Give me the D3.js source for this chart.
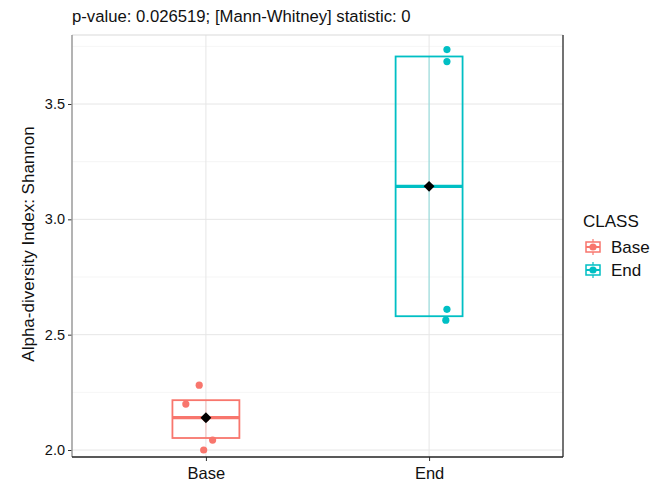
<!DOCTYPE html>
<html>
<head>
<meta charset="utf-8">
<script src="https://cdn.jsdelivr.net/npm/d3@7"></script>
<style>
  html, body { margin: 0; padding: 0; background: #fff; }
  svg { display: block; font-family: "Liberation Sans", Arial, sans-serif; }
</style>
</head>
<body>
<svg id="chart" width="659" height="488"></svg>
<script>
// Groups and their colours
const classes = ["Base", "End"];
const classColors = ["#F8766D", "#00BFC4"];

// Shannon index per sample, with a small horizontal jitter (category units)
const baseValues = [2.281, 2.199, 2.139, 2.043, 2.000];
const baseJitter = [-0.03, -0.09, 0.0, 0.03, -0.01];
const endValues = [3.736, 3.684, 2.610, 2.563];
const endJitter = [0.08, 0.08, 0.08, 0.075];

// Box summaries: lower hinge, median, upper hinge, mean
const boxLower = [2.052, 2.580];
const boxMedian = [2.140, 3.143];
const boxUpper = [2.216, 3.706];
const groupMean = [2.140, 3.143];

// Axis ticks
const yTicks = [2.0, 2.5, 3.0, 3.5];
const yMinorTicks = [2.25, 2.75, 3.25, 3.75];

const titleText = "p-value: 0.026519; [Mann-Whitney] statistic: 0";
const yTitle = "Alpha-diversity Index: Shannon";
const legendTitle = "CLASS";

const svg = d3.select("#chart");
const panel = { left: 72, top: 35, right: 563, bottom: 457 };

const x = d3.scaleLinear().domain([0.4, 2.6]).range([panel.left, panel.right]);
const y = d3.scaleLinear().domain([2.0, 3.5]).range([450, 104]);

// Grid
const grid = svg.append("g");
grid.selectAll(".minor").data(yMinorTicks).join("line")
  .attr("x1", panel.left).attr("x2", panel.right)
  .attr("y1", d => y(d)).attr("y2", d => y(d))
  .attr("stroke", "#f3f3f3").attr("stroke-width", 0.8);
grid.selectAll(".major").data(yTicks).join("line")
  .attr("x1", panel.left).attr("x2", panel.right)
  .attr("y1", d => y(d)).attr("y2", d => y(d))
  .attr("stroke", "#e6e6e6").attr("stroke-width", 1);
grid.selectAll(".vmajor").data(classes).join("line")
  .attr("x1", (d, i) => x(i + 1)).attr("x2", (d, i) => x(i + 1))
  .attr("y1", panel.top).attr("y2", panel.bottom)
  .attr("stroke", "#e6e6e6").attr("stroke-width", 1);

// Panel border
svg.append("line").attr("x1", panel.left).attr("x2", panel.right)
  .attr("y1", panel.top).attr("y2", panel.top).attr("stroke", "#d9d9d9");
svg.append("line").attr("x1", panel.right).attr("x2", panel.right)
  .attr("y1", panel.top).attr("y2", panel.bottom).attr("stroke", "#444").attr("stroke-width", 1.5);

// Boxes
const boxHalf = 0.15;
const boxes = svg.append("g");
classes.forEach((c, i) => {
  const col = classColors[i];
  const cx = x(i + 1);
  boxes.append("line")
    .attr("x1", cx).attr("x2", cx)
    .attr("y1", y(boxUpper[i])).attr("y2", y(boxLower[i]))
    .attr("stroke", col).attr("stroke-opacity", 0.35).attr("stroke-width", 1.2);
  boxes.append("rect")
    .attr("x", x(i + 1 - boxHalf)).attr("width", x(i + 1 + boxHalf) - x(i + 1 - boxHalf))
    .attr("y", y(boxUpper[i])).attr("height", y(boxLower[i]) - y(boxUpper[i]))
    .attr("fill", "none").attr("stroke", col).attr("stroke-width", 1.8);
  boxes.append("line")
    .attr("x1", x(i + 1 - boxHalf)).attr("x2", x(i + 1 + boxHalf))
    .attr("y1", y(boxMedian[i])).attr("y2", y(boxMedian[i]))
    .attr("stroke", col).attr("stroke-width", 3.2);
});

// Sample points
const points = svg.append("g");
const groups = [
  { vals: baseValues, jit: baseJitter },
  { vals: endValues, jit: endJitter }
];
groups.forEach((g, i) => {
  points.selectAll(null).data(g.vals).join("circle")
    .attr("cx", (d, k) => x(i + 1 + g.jit[k]))
    .attr("cy", d => y(d))
    .attr("r", 3.6)
    .attr("fill", classColors[i]);
});

// Mean markers
const diamond = d3.symbol().type(d3.symbolDiamond2).size(75);
svg.append("g").selectAll("path").data(groupMean).join("path")
  .attr("d", diamond)
  .attr("transform", (d, i) => `translate(${x(i + 1)},${y(d)})`)
  .attr("fill", "#000");

// Axes
const yAxis = d3.axisLeft(y).tickValues(yTicks).tickFormat(d3.format(".1f")).tickSize(4).tickPadding(3);
const yg = svg.append("g").attr("transform", `translate(${panel.left},0)`).call(yAxis);
yg.select(".domain").remove();
yg.append("line").attr("x1", 0).attr("x2", 0).attr("y1", panel.top).attr("y2", panel.bottom)
  .attr("stroke", "#9a9a9a").attr("stroke-width", 1.5);
yg.selectAll(".tick line").attr("stroke", "#333");
yg.selectAll(".tick text").attr("font-size", 14.5).attr("fill", "#111")
  .attr("font-family", "Liberation Sans, Arial, sans-serif");

const xBand = d3.scalePoint().domain(classes).range([x(1), x(2)]);
const xAxis = d3.axisBottom(xBand).tickSize(4).tickPadding(6);
const xg = svg.append("g").attr("transform", `translate(0,${panel.bottom})`).call(xAxis);
xg.select(".domain").remove();
xg.append("line").attr("x1", panel.left).attr("x2", panel.right).attr("y1", 0).attr("y2", 0)
  .attr("stroke", "#222").attr("stroke-width", 1.5);
xg.selectAll(".tick line").attr("stroke", "#333");
xg.selectAll(".tick text").attr("font-size", 16.5).attr("fill", "#111")
  .attr("font-family", "Liberation Sans, Arial, sans-serif");

// Titles
svg.append("text").attr("x", panel.left).attr("y", 22)
  .attr("font-size", 16.7).attr("fill", "#111").text(titleText);
svg.append("text")
  .attr("transform", `translate(34,244) rotate(-90)`)
  .attr("text-anchor", "middle").attr("font-size", 17).attr("fill", "#111").text(yTitle);

// Legend
const lg = svg.append("g").attr("transform", "translate(582,0)");
lg.append("text").attr("x", 1).attr("y", 227).attr("font-size", 17).attr("fill", "#111").text(legendTitle);
classes.forEach((c, i) => {
  const cy = 247 + i * 23;
  const col = classColors[i];
  const k = lg.append("g").attr("transform", `translate(11,${cy})`);
  k.append("line").attr("x1", 0).attr("x2", 0).attr("y1", -8).attr("y2", 8).attr("stroke", col).attr("stroke-width", 1.2);
  k.append("rect").attr("x", -7).attr("y", -5).attr("width", 14).attr("height", 10)
    .attr("fill", "#fff").attr("stroke", col).attr("stroke-width", 1.5);
  k.append("line").attr("x1", -7).attr("x2", 7).attr("y1", 0).attr("y2", 0).attr("stroke", col).attr("stroke-width", 2);
  k.append("circle").attr("r", 3.6).attr("fill", col);
  lg.append("text").attr("x", 29).attr("y", cy + 6).attr("font-size", 17).attr("fill", "#111").text(c);
});
</script>
</body>
</html>
